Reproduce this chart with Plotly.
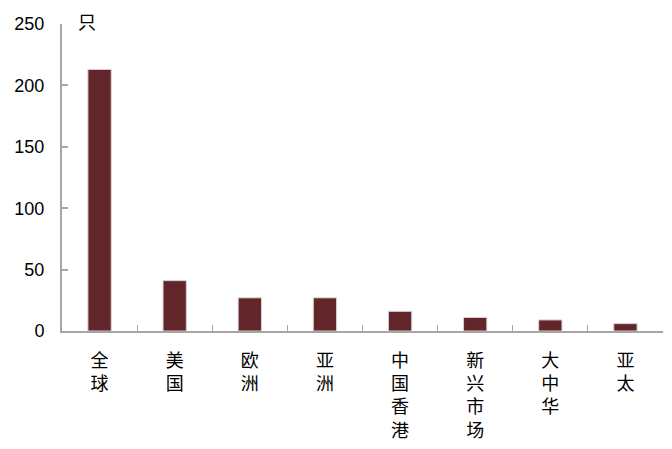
import plotly.graph_objects as go

# categories and counts (unit: 只)
regions = ["全球", "美国", "欧洲", "亚洲", "中国香港", "新兴市场", "大中华", "亚太"]
counts = [213, 41, 27, 27, 16, 11, 9, 6]
y_ticks = [0, 50, 100, 150, 200, 250]

# stack chinese characters vertically for the x labels
tick_text = ["<br>".join(list(r)) for r in regions]

fig = go.Figure()
fig.add_trace(go.Bar(
    x=regions, y=counts,
    marker=dict(color="#62262A", line=dict(color="#D9D0D0", width=1)),
    width=0.31,
))

# page body adds an 8px offset, so the figure is 8px smaller
fig.update_layout(
    width=664, height=441,
    margin=dict(l=54, r=9, t=16, b=118),
    plot_bgcolor="white", paper_bgcolor="white",
    font=dict(family="Liberation Sans, Noto Sans CJK SC", size=18, color="black"),
    showlegend=False,
)
fig.update_xaxes(
    tickvals=regions, ticktext=tick_text,
    showline=True, linecolor="#A6A6A6", linewidth=2,
    ticks="inside", tickson="boundaries", ticklen=6, tickcolor="#A6A6A6", tickwidth=1,
    showgrid=False, ticklabelstandoff=12, automargin=False,
    tickfont=dict(family="Noto Sans CJK SC", size=18),
)
fig.update_yaxes(
    range=[0, 250], tickvals=y_ticks,
    showline=True, linecolor="#A6A6A6", linewidth=2,
    ticks="inside", ticklen=6, tickcolor="#A6A6A6", tickwidth=2,
    showgrid=False, zeroline=False, ticklabelstandoff=12, automargin=False,
)
fig.add_annotation(
    text="只", xref="paper", yref="paper", x=0.024, y=1.01,
    xanchor="left", yanchor="middle", showarrow=False,
    font=dict(family="Noto Sans CJK SC", size=18),
)

fig.write_html("out.html")
